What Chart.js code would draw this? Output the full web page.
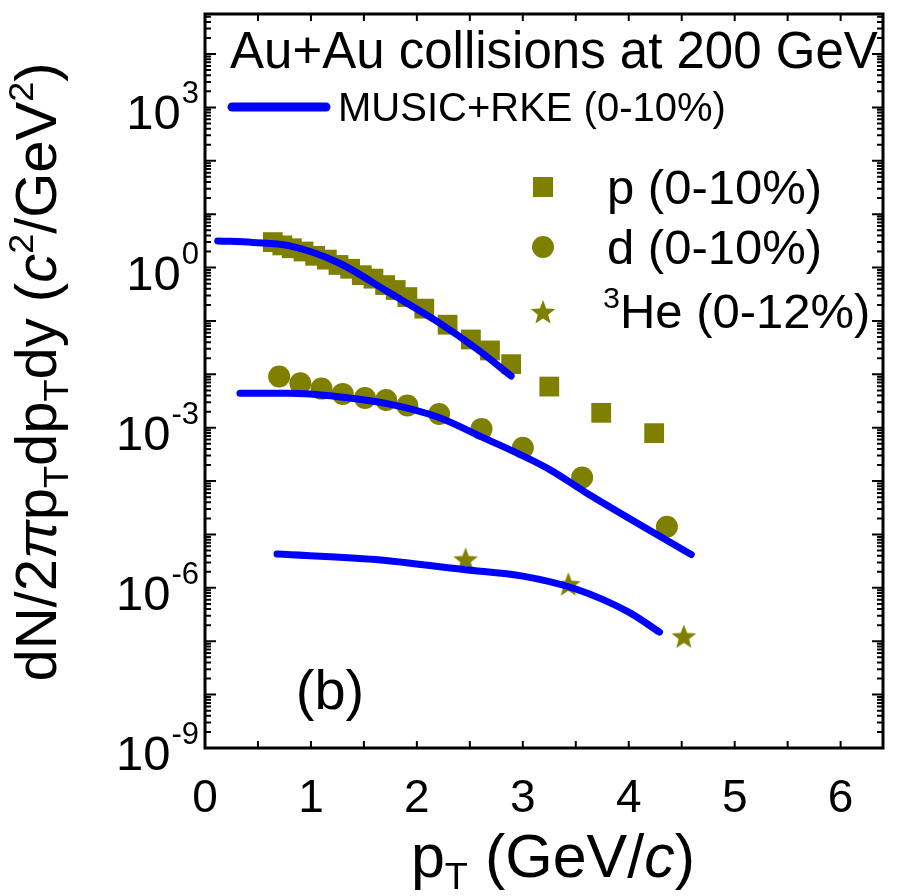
<!DOCTYPE html>
<html>
<head>
<meta charset="utf-8">
<script src="https://cdn.jsdelivr.net/npm/chart.js@4.4.0/dist/chart.umd.min.js"></script>
<style>
    html, body { margin: 0; padding: 0; background: #fff; }
</style>
</head>
<body>
<canvas id="spectra" width="897" height="896"></canvas>
<script>
// ========================================
// pT spectra, Au+Au 200 GeV, panel (b)
// ========================================

// proton data (0-10%)
const pX = [0.64, 0.73, 0.82, 0.93, 1.04, 1.15, 1.26, 1.37, 1.48, 1.59, 1.70, 1.80, 1.91, 2.07, 2.29, 2.51, 2.69, 2.89, 3.25, 3.74, 4.24];
const pY = [3.0, 2.6, 2.3, 2.0, 1.66, 1.41, 1.12, 0.95, 0.72, 0.62, 0.47, 0.38, 0.28, 0.17, 0.085, 0.045, 0.028, 0.0155, 0.0059, 0.0019, 0.00079];

// deuteron data (0-10%)
const dX = [0.70, 0.90, 1.10, 1.30, 1.51, 1.71, 1.91, 2.21, 2.61, 3.00, 3.56, 4.36];
const dY = [0.0091, 0.0068, 0.0054, 0.0043, 0.0036, 0.0033, 0.0026, 0.0018, 0.00095, 0.00042, 0.000117, 1.4e-5];

// 3He data (0-12%)
const heX = [2.46, 3.43, 4.52];
const heY = [3.4e-6, 1.17e-6, 1.23e-7];

// MUSIC+RKE curves
const pModelX = [0.12, 0.45, 0.79, 1.26, 1.73, 2.19, 2.57, 2.89];
const pModelY = [3.16, 2.95, 2.57, 1.23, 0.347, 0.098, 0.0295, 0.0093];
const dModelX = [0.33, 0.79, 1.26, 1.73, 2.19, 2.60, 3.25, 3.59, 4.59];
const dModelY = [0.0044, 0.0044, 0.0038, 0.0028, 0.0016, 0.00069, 0.000166, 6.2e-5, 4.2e-6];
const heModelX = [0.68, 1.61, 2.44, 3.0, 3.5, 4.0, 4.29];
const heModelY = [4.3e-6, 3.4e-6, 2.2e-6, 1.66e-6, 9.5e-7, 3.5e-7, 1.48e-7];

// axes
const xTicks = [0, 1, 2, 3, 4, 5, 6];
const yLabelExps = [3, 0, -3, -6, -9];

const OLIVE = '#808000';
const BLUE = '#0000ff';
const FONT = '"Liberation Sans", Arial, sans-serif';

const pts = (xs, ys) => xs.map((x, i) => ({ x: x, y: ys[i] }));

// filled 5-point star used as point style
function makeStar(size) {
    const c = document.createElement('canvas');
    c.width = size; c.height = size;
    const g = c.getContext('2d');
    const R = size / 2, r = R * 0.42;
    g.beginPath();
    for (let i = 0; i < 10; i++) {
        const a = -Math.PI / 2 + i * Math.PI / 5;
        const rad = i % 2 === 0 ? R : r;
        g.lineTo(R + rad * Math.cos(a), R + 1 + rad * Math.sin(a));
    }
    g.closePath();
    g.fillStyle = OLIVE;
    g.fill();
    return c;
}
const star = makeStar(26);

// text with sub/superscripts: parts = [[text, mode]]
function richWidth(ctx, parts, size) {
    let w = 0;
    parts.forEach(p => {
        const s = p[1] === 'sub' || p[1] === 'sup' ? size * 0.62 : size;
        ctx.font = (p[1] === 'i' ? 'italic ' : '') + s + 'px ' + FONT;
        w += ctx.measureText(p[0]).width;
    });
    return w;
}
function drawRich(ctx, parts, x, y, size, align) {
    let cx = align === 'center' ? x - richWidth(ctx, parts, size) / 2 : x;
    ctx.textAlign = 'left';
    ctx.textBaseline = 'alphabetic';
    parts.forEach(p => {
        let s = size, dy = 0;
        if (p[1] === 'sub') { s = size * 0.62; dy = size * 0.2; }
        if (p[1] === 'sup') { s = size * 0.62; dy = -size * 0.4; }
        ctx.font = (p[1] === 'i' ? 'italic ' : '') + s + 'px ' + FONT;
        ctx.fillText(p[0], cx, y + dy);
        cx += ctx.measureText(p[0]).width;
    });
}

// frame, inward ticks, labels and legend
const decorPlugin = {
    id: 'decor',
    afterDraw(chart) {
        const ctx = chart.ctx;
        const a = chart.chartArea;
        const xs = chart.scales.x, ys = chart.scales.y;
        ctx.save();
        ctx.fillStyle = '#000';
        ctx.strokeStyle = '#000';

        // ticks
        ctx.lineWidth = 2;
        ctx.beginPath();
        for (let v = 0; v <= 6.4; v += 0.5) {
            const px = xs.getPixelForValue(v);
            ctx.moveTo(px, a.bottom); ctx.lineTo(px, a.bottom - 7);
            ctx.moveTo(px, a.top); ctx.lineTo(px, a.top + 7);
        }
        for (let e = -9; e <= 4; e++) {
            for (let m = 1; m <= 9; m++) {
                const v = m * Math.pow(10, e);
                if (v < ys.min || v > ys.max) continue;
                const py = ys.getPixelForValue(v);
                const len = m === 1 ? 11 : 6;
                ctx.moveTo(a.left, py); ctx.lineTo(a.left + len, py);
                ctx.moveTo(a.right, py); ctx.lineTo(a.right - len, py);
            }
        }
        ctx.stroke();

        // frame
        ctx.lineWidth = 3;
        ctx.strokeRect(a.left, a.top, a.right - a.left, a.bottom - a.top);

        // x tick labels
        ctx.font = '46px ' + FONT;
        ctx.textAlign = 'center';
        ctx.textBaseline = 'alphabetic';
        xTicks.forEach(v => ctx.fillText(String(v), xs.getPixelForValue(v), 812));

        // y tick labels 10^n
        yLabelExps.forEach(e => {
            const py = ys.getPixelForValue(Math.pow(10, e));
            ctx.font = '31px ' + FONT;
            const sup = String(e);
            const sw = ctx.measureText(sup).width;
            const right = 199;
            ctx.textAlign = 'left';
            ctx.fillText(sup, right - sw, py - 4);
            ctx.font = '49px ' + FONT;
            ctx.textAlign = 'right';
            ctx.fillText('10', right - sw - 1, py + 22);
        });

        // axis titles
        drawRich(ctx, [['p', ''], ['T', 'sub'], [' (GeV/', ''], ['c', 'i'], [')', '']], 553, 877, 61, 'center');
        ctx.save();
        ctx.translate(56, 372);
        ctx.rotate(-Math.PI / 2);
        drawRich(ctx, [['dN/2', ''], ['π', 'i'], ['p', ''], ['T', 'sub'], ['dp', ''], ['T', 'sub'], ['dy (', ''],
            ['c', 'i'], ['2', 'sup'], ['/GeV', ''], ['2', 'sup'], [')', '']], 0, 0, 58, 'center');
        ctx.restore();

        // legend
        drawRich(ctx, [['Au+Au collisions at 200 GeV', '']], 230, 68, 51, 'left');
        ctx.strokeStyle = BLUE;
        ctx.lineWidth = 9;
        ctx.lineCap = 'round';
        ctx.beginPath();
        ctx.moveTo(232, 107); ctx.lineTo(326, 107);
        ctx.stroke();
        ctx.fillStyle = '#000';
        drawRich(ctx, [['MUSIC+RKE (0-10%)', '']], 338, 121, 40, 'left');

        ctx.fillStyle = OLIVE;
        ctx.fillRect(533, 177, 20, 20);
        ctx.beginPath();
        ctx.arc(543, 247, 11, 0, Math.PI * 2);
        ctx.fill();
        ctx.drawImage(star, 530, 299);

        ctx.fillStyle = '#000';
        drawRich(ctx, [['p (0-10%)', '']], 607, 204, 49, 'left');
        drawRich(ctx, [['d (0-10%)', '']], 607, 264, 49, 'left');
        drawRich(ctx, [['3', 'sup'], ['He (0-12%)', '']], 603, 328, 49, 'left');

        drawRich(ctx, [['(b)', '']], 330, 709, 56, 'center');
        ctx.restore();
    }
};

const lineStyle = {
    showLine: true,
    borderColor: BLUE,
    borderWidth: 7,
    borderCapStyle: 'round',
    borderJoinStyle: 'round',
    cubicInterpolationMode: 'monotone',
    pointRadius: 0,
    order: 0
};

new Chart(document.getElementById('spectra'), {
    type: 'scatter',
    data: {
        datasets: [
            Object.assign({ label: 'MUSIC+RKE p', data: pts(pModelX, pModelY) }, lineStyle),
            Object.assign({ label: 'MUSIC+RKE d', data: pts(dModelX, dModelY) }, lineStyle),
            Object.assign({ label: 'MUSIC+RKE 3He', data: pts(heModelX, heModelY) }, lineStyle),
            {
                label: 'p (0-10%)', data: pts(pX, pY), pointStyle: 'rect', pointRadius: 14,
                backgroundColor: OLIVE, borderColor: OLIVE, borderWidth: 0, order: 1
            },
            {
                label: 'd (0-10%)', data: pts(dX, dY), pointStyle: 'circle', pointRadius: 11,
                backgroundColor: OLIVE, borderColor: OLIVE, borderWidth: 0, order: 1
            },
            {
                label: '3He (0-12%)', data: pts(heX, heY), pointStyle: star, pointRadius: 13,
                backgroundColor: OLIVE, borderColor: OLIVE, borderWidth: 0, order: 1
            }
        ]
    },
    options: {
        responsive: false,
        animation: false,
        devicePixelRatio: 1,
        layout: { padding: { top: 5, right: 5, left: 0, bottom: 0 } },
        plugins: { legend: { display: false }, tooltip: { enabled: false } },
        scales: {
            x: {
                type: 'linear', min: 0, max: 6.4,
                grid: { display: false }, border: { display: false },
                ticks: { display: false },
                afterFit: s => { s.height = 148; }
            },
            y: {
                type: 'logarithmic', min: 1e-9, max: Math.pow(10, 4.75),
                grid: { display: false }, border: { display: false },
                ticks: { display: false },
                afterFit: s => { s.width = 205; }
            }
        }
    },
    plugins: [decorPlugin]
});
</script>
</body>
</html>
